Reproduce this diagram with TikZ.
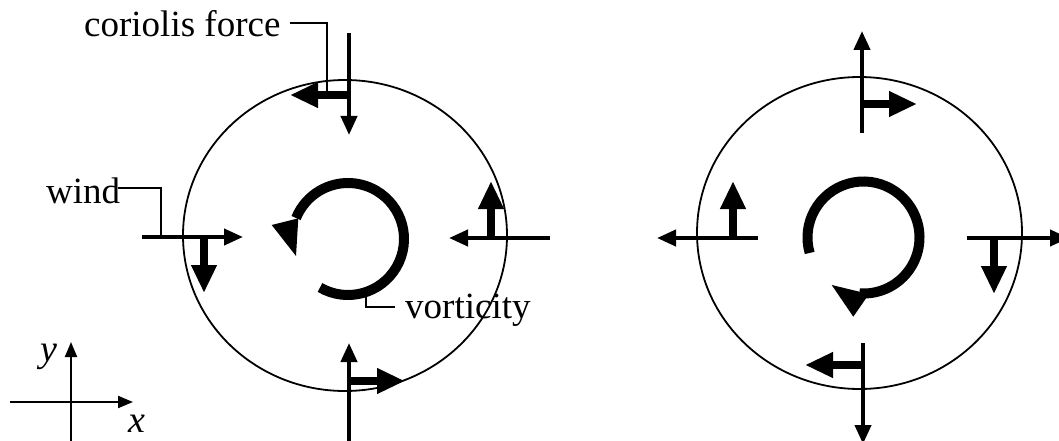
\documentclass[tikz,border=0pt]{standalone}
\usepackage{fontspec}
\setmainfont{Liberation Serif}
\usetikzlibrary{arrows.meta}
\tikzset{
  wind/.style={line width=4pt, -{Triangle[length=19pt,width=16pt]}},
  cor/.style={line width=8pt, -{Triangle[length=28pt,width=24pt]}},
  ring/.style={line width=10pt},
  lead/.style={line width=1.8pt},
  rim/.style={line width=1.8pt},
  ax/.style={line width=2pt, -{Triangle[length=15pt,width=12pt]}},
  lab/.style={font=\fontsize{37}{40}\selectfont, inner sep=0pt, anchor=base west}
}
\begin{document}
\begin{tikzpicture}[x=1pt,y=-1pt]
\useasboundingbox (0,0) rectangle (1059,441);
% circles
\draw[rim] (345,235.5) ellipse [x radius=162, y radius=155.5];
\draw[rim] (859.5,233) ellipse [x radius=162.5, y radius=156];
% ---------- left diagram ----------
\coordinate (LTa) at (349,33);  \coordinate (LTb) at (349,135);
\coordinate (LTc) at (349,95);  \coordinate (LTd) at (290,95);
\draw[wind] (LTa) -- (LTb);
\draw[cor] (LTc) -- (LTd);
\coordinate (LLa) at (142,237); \coordinate (LLb) at (243,237);
\coordinate (LLc) at (204,237); \coordinate (LLd) at (204,293);
\draw[wind] (LLa) -- (LLb);
\draw[cor] (LLc) -- (LLd);
\coordinate (LRa) at (550,238); \coordinate (LRb) at (449,238);
\coordinate (LRc) at (491,238); \coordinate (LRd) at (491,181);
\draw[wind] (LRa) -- (LRb);
\draw[cor] (LRc) -- (LRd);
\coordinate (LBa) at (349,441); \coordinate (LBb) at (349,343);
\coordinate (LBc) at (349,381); \coordinate (LBd) at (405,381);
\draw[wind] (LBa) -- (LBb);
\draw[cor] (LBc) -- (LBd);
% left vorticity
\coordinate (LV) at (348,239);
\draw[ring] ([shift={(120:56)}]LV) arc[start angle=120, end angle=-158, radius=56];
\fill (271.7,225) -- (298.3,218.3) -- (296,256) -- cycle;
% ---------- right diagram ----------
\coordinate (RTa) at (862,133); \coordinate (RTb) at (862,31);
\coordinate (RTc) at (862,104); \coordinate (RTd) at (917,104);
\draw[wind] (RTa) -- (RTb);
\draw[cor] (RTc) -- (RTd);
\coordinate (RLa) at (758,238); \coordinate (RLb) at (657,238);
\coordinate (RLc) at (733,238); \coordinate (RLd) at (733,181);
\draw[wind] (RLa) -- (RLb);
\draw[cor] (RLc) -- (RLd);
\coordinate (RRa) at (967,238); \coordinate (RRb) at (1069,238);
\coordinate (RRc) at (994,238); \coordinate (RRd) at (994,294);
\draw[wind] (RRa) -- (RRb);
\draw[cor] (RRc) -- (RRd);
\coordinate (RBa) at (863,343); \coordinate (RBb) at (863,444);
\coordinate (RBc) at (863,365); \coordinate (RBd) at (805,365);
\draw[wind] (RBa) -- (RBb);
\draw[cor] (RBc) -- (RBd);
% right vorticity
\coordinate (RV) at (863.5,237.5);
\draw[ring] ([shift={(-196:56)}]RV) arc[start angle=-196, end angle=94, radius=56];
\fill (831.7,285) -- (869,294) -- (853.3,316.7) -- cycle;
% ---------- labels ----------
\node[lab] (cf) at (84,37) {coriolis force};
\coordinate (cfk) at (327,23.3);
\coordinate (cfe) at (327,91);
\draw[lead] (290,23.3) -- (cfk) -- (cfe);
\node[lab] (wd) at (46,203) {wind};
\coordinate (wdk) at (161,188);
\draw[lead] (118,188) -- (wdk) -- (LLa -| wdk);
\node[lab] (vt) at (405,318) {vorticity};
\coordinate (vtk) at (366,307);
\draw[lead] (366,295) -- (vtk) -- (395,307);
% ---------- axes ----------
\coordinate (AXa) at (10,402); \coordinate (AXb) at (133,402);
\coordinate (AYa) at (71,441); \coordinate (AYb) at (71,342);
\draw[ax] (AXa) -- (AXb);
\draw[ax] (AYa) -- (AYb);
\node[lab, font=\fontsize{38}{40}\selectfont\itshape] (ylab) at (40,361) {y};
\node[lab, font=\fontsize{38}{40}\selectfont\itshape] (xlab) at (128,432) {x};
\end{tikzpicture}
\end{document}
